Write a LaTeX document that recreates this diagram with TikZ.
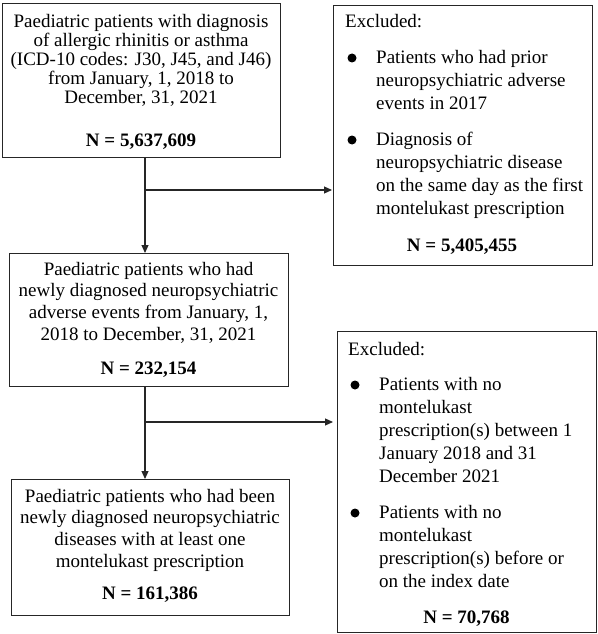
\documentclass[tikz,border=0pt]{standalone}
\usepackage{fontspec}
\setmainfont{Liberation Serif}
\usetikzlibrary{arrows.meta}
\newcommand\strt{\rule{0pt}{14pt}}
\begin{document}
\begin{tikzpicture}[x=1pt,y=-1pt,
  box/.style={draw=black!85, line width=1.1pt, inner sep=0pt, anchor=north west},
  line/.style={draw=black!85, line width=1.1pt},
  arr/.style={line, -{Triangle[length=8pt,width=7pt]}},
  ctxt/.style={inner sep=0pt, align=center, anchor=north, font=\fontsize{19}{19}\selectfont},
  ltxt/.style={inner sep=0pt, align=left, anchor=north west, font=\fontsize{19}{23}\selectfont},
  ntxt/.style={inner sep=0pt, anchor=base, font=\fontsize{19}{19}\selectfont\bfseries},
  bul/.style={circle, fill=black, inner sep=0pt, minimum size=9pt}]
\useasboundingbox (0,0) rectangle (597,634);
% boxes
\node[box, minimum width=278pt, minimum height=154pt] (b1) at (2,3) {};
\node[box, minimum width=259pt, minimum height=260pt] (b2) at (333,5) {};
\node[box, minimum width=279pt, minimum height=133pt] (b3) at (9,253) {};
\node[box, minimum width=278pt, minimum height=136pt] (b4) at (11,479) {};
\node[box, minimum width=259pt, minimum height=301pt] (b5) at (337,331) {};
% box 1 text
\node[ctxt] (t1) at (141,13) {\strt Paediatric patients with diagnosis\\of allergic rhinitis or asthma\\(ICD-10 codes: J30, J45, and J46)\\from January, 1, 2018 to\\December, 31, 2021};
\node[ntxt] (n1) at (141,146) {N = 5,637,609};
% box 2 text
\node[ltxt, anchor=base west] (e2) at (345,28) {Excluded:};
\node[bul] (p21) at (352,58) {};
\node[ltxt] (t21) at (376,49) {\strt Patients who had prior\\neuropsychiatric adverse\\events in 2017};
\node[bul] (p22) at (352,140) {};
\node[ltxt] (t22) at (376,131) {\strt Diagnosis of\\neuropsychiatric disease\\on the same day as the first\\montelukast prescription};
\node[ntxt] (n2) at (462,251) {N = 5,405,455};
% box 3 text
\node[ctxt, font=\fontsize{19}{21.7}\selectfont] (t3) at (148.5,261) {\strt Paediatric patients who had\\newly diagnosed neuropsychiatric\\adverse events from January, 1,\\2018 to December, 31, 2021};
\node[ntxt] (n3) at (148.5,374) {N = 232,154};
% box 4 text
\node[ctxt, font=\fontsize{19}{21.7}\selectfont] (t4) at (150,488) {\strt Paediatric patients who had been\\newly diagnosed neuropsychiatric\\diseases with at least one\\montelukast prescription};
\node[ntxt] (n4) at (150,599) {N = 161,386};
% box 5 text
\node[ltxt, anchor=base west] (e5) at (348,355) {Excluded:};
\node[bul] (p51) at (355,385) {};
\node[ltxt] (t51) at (379,376) {\strt Patients with no\\montelukast\\prescription(s) between 1\\January 2018 and 31\\December 2021};
\node[bul] (p52) at (355,513) {};
\node[ltxt] (t52) at (379,504) {\strt Patients with no\\montelukast\\prescription(s) before or\\on the index date};
\node[ntxt] (n5) at (466.5,623) {N = 70,768};
% connectors
\coordinate (j1) at (145,190);
\coordinate (j2) at (145,422);
\draw[line] (b1.south -| j1) -- (j1);
\draw[arr] (j1) -- (b3.north -| j1);
\draw[arr, shorten >=1pt] (j1) -- (j1 -| b2.west);
\draw[line] (b3.south -| j2) -- (j2);
\draw[arr] (j2) -- (b4.north -| j2);
\draw[arr, shorten >=4pt] (j2) -- (j2 -| b5.west);
\end{tikzpicture}
\end{document}
